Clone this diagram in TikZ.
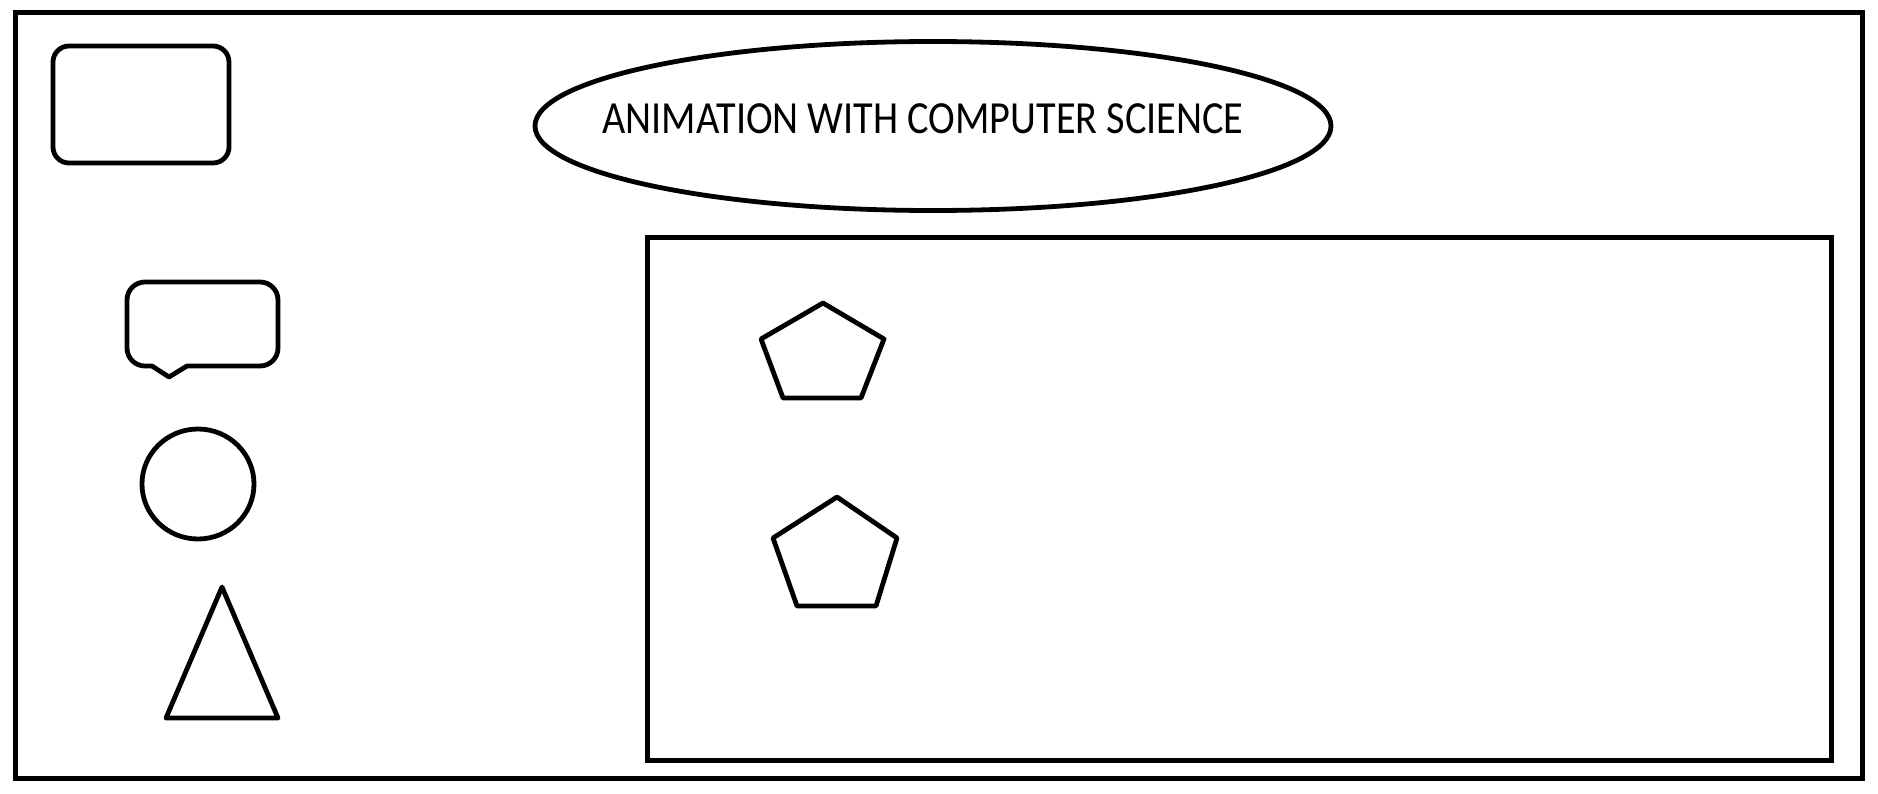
\documentclass[tikz,border=0pt]{standalone}
\usepackage{graphicx}
\usepackage{fontspec}
\setmainfont{Carlito}
\usetikzlibrary{shapes.geometric}
\tikzset{
  shape line/.style={draw=black, line width=2.4pt, line join=round},
  frame line/.style={draw=black, line width=2.5pt},
  title text/.style={font=\fontsize{23}{27}\selectfont, inner sep=0pt, anchor=base}
}
\begin{document}
\begin{tikzpicture}[x=0.5pt, y=-0.5pt]
  \useasboundingbox[fill=white] (0,0) rectangle (1878,793);
  % outer frame
  \draw[frame line] (15,12) rectangle (1862,778);
  % inner canvas
  \draw[frame line] (647,237) rectangle (1831,760);
  % title ellipse
  \node[shape line, ellipse, minimum width=398pt, minimum height=84.5pt, inner sep=0pt] (title) at (933,126) {};
  \node[title text] (titletext) at (923,133) {\scalebox{0.875}[1]{ANIMATION WITH COMPUTER SCIENCE}};
  % rounded rectangle
  \draw[shape line, rounded corners=8pt] (53,46) rectangle (229,163);
  % speech bubble
  \draw[shape line] (169,377) -- (152,366) -- (145,366)
    .. controls (135,366) and (127,358) .. (127,348) -- (127,300)
    .. controls (127,290) and (135,282) .. (145,282) -- (260,282)
    .. controls (270,282) and (278,290) .. (278,300) -- (278,348)
    .. controls (278,358) and (270,366) .. (260,366) -- (187,366) -- cycle;
  % circle
  \draw[shape line] (198,484) ellipse (28pt and 27.5pt);
  % triangle
  \draw[shape line] (222,587) -- (278,718) -- (166,718) -- cycle;
  % pentagons
  \draw[shape line] (823,303) -- (884,339) -- (861,398) -- (783,398) -- (761,339) -- cycle;
  \draw[shape line] (837,497) -- (897,538) -- (876,606) -- (797,606) -- (773,538) -- cycle;
\end{tikzpicture}
\end{document}
